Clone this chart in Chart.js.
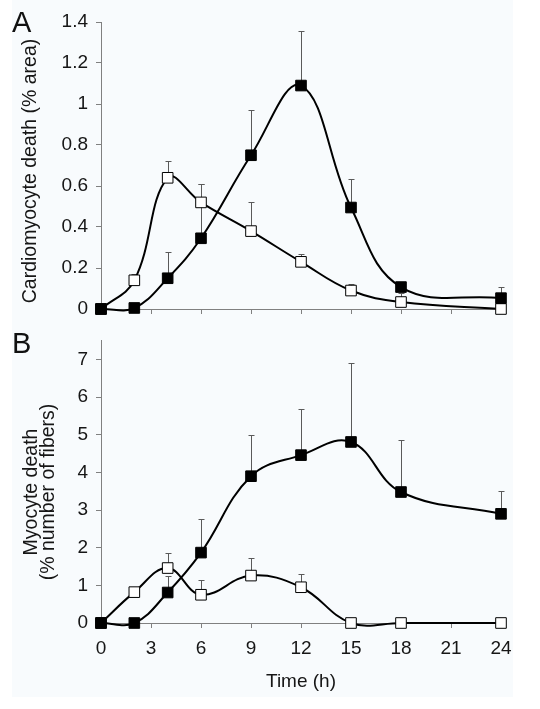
<!DOCTYPE html>
<html lang="en">
<head>
    <meta charset="UTF-8">
    <title>Cardiomyocyte and myocyte death over time</title>
    <script src="https://cdn.jsdelivr.net/npm/chart.js"></script>
    <style>
        body { margin: 0; background: #ffffff; font-family: "Liberation Sans", Arial, sans-serif; }
        #page { position: relative; width: 540px; height: 709px; overflow: hidden; }
        #panel { position: absolute; left: 12px; top: 0; width: 501px; height: 697px; background: #f8fbfd; }
        canvas { position: absolute; left: 0; }
        #chartA { top: 0; }
        #chartB { top: 315px; }
        .letter { position: absolute; left: 12px; font-size: 29px; line-height: 1; color: #111; }
        .ytitle {
            position: absolute; width: 300px;
            transform: translate(-50%, -50%) rotate(-90deg);
            font-size: 19.5px; line-height: 17px; text-align: center; color: #161616; white-space: nowrap;
        }
    </style>
</head>
<body>
<div id="page">
    <div id="panel"></div>
    <canvas id="chartA" width="540" height="330"></canvas>
    <canvas id="chartB" width="540" height="394"></canvas>
    <div class="letter" style="top: 8px;">A</div>
    <div class="letter" style="top: 329px;">B</div>
    <div class="ytitle" style="left: 29px; top: 171px;">Cardiomyocyte death (% area)</div>
    <div class="ytitle" style="left: 39px; top: 492px;">Myocyte death<br>(% number of fibers)</div>
</div>
<script>
    // sampling times (h)
    const times = [0, 2, 4, 6, 9, 12, 15, 18, 24];
    const timeTicks = [0, 3, 6, 9, 12, 15, 18, 21, 24];

    // panel A: cardiomyocyte death (% area)
    const areaTicks = [0, 0.2, 0.4, 0.6, 0.8, 1, 1.2, 1.4];
    const areaOpen = [0, 0.14, 0.64, 0.52, 0.38, 0.23, 0.09, 0.034, 0];
    const areaOpenErr = [0, 0.03, 0.08, 0.09, 0.14, 0.04, 0.03, 0.045, 0];
    const areaFilled = [0, 0.005, 0.15, 0.345, 0.75, 1.09, 0.495, 0.107, 0.053];
    const areaFilledErr = [0, 0, 0.13, 0.265, 0.22, 0.265, 0.14, 0, 0.053];

    // panel B: myocyte death (% number of fibers)
    const fiberTicks = [0, 1, 2, 3, 4, 5, 6, 7];
    const fiberOpen = [0, 0.82, 1.46, 0.75, 1.26, 0.95, 0, 0, 0];
    const fiberOpenErr = [0, 0, 0.40, 0.38, 0.47, 0.34, 0, 0, 0];
    const fiberFilled = [0, 0, 0.81, 1.87, 3.90, 4.46, 4.81, 3.48, 2.90];
    const fiberFilledErr = [0, 0, 0.44, 0.89, 1.10, 1.23, 2.10, 1.37, 0.60];

    const axisColor = '#808080';
    const textColor = '#161616';
    const tickFont = { family: 'Liberation Sans', size: 19 };

    function points(values) {
        return values.map((v, i) => ({ x: times[i], y: v }));
    }

    function series(values, errors, filled) {
        return {
            data: points(values),
            errors: errors,
            borderColor: '#000000',
            borderWidth: 2,
            tension: 0.4,
            clip: false,
            pointStyle: 'rect',
            pointRadius: 7.5,
            pointHoverRadius: 7.5,
            pointBorderWidth: 1,
            pointBorderColor: '#000000',
            pointBackgroundColor: filled ? '#000000' : '#ffffff'
        };
    }

    // upward error bars drawn under the lines and markers
    const errorBars = {
        id: 'errorBars',
        beforeDatasetsDraw(chart) {
            const ctx = chart.ctx;
            const xs = chart.scales.x;
            const ys = chart.scales.y;
            ctx.save();
            ctx.strokeStyle = '#5a5a5a';
            ctx.lineWidth = 1;
            chart.data.datasets.forEach(ds => {
                ds.data.forEach((p, i) => {
                    const err = ds.errors[i];
                    if (!err) return;
                    const x = Math.round(xs.getPixelForValue(p.x)) + 0.5;
                    const y0 = ys.getPixelForValue(p.y);
                    const y1 = Math.round(ys.getPixelForValue(p.y + err)) + 0.5;
                    ctx.beginPath();
                    ctx.moveTo(x, y0);
                    ctx.lineTo(x, y1);
                    ctx.moveTo(x - 3, y1);
                    ctx.lineTo(x + 3, y1);
                    ctx.stroke();
                });
            });
            ctx.restore();
        }
    };

    function xAxis(showLabels, height) {
        return {
            type: 'linear',
            min: 0,
            max: 24,
            afterFit: s => { s.height = height; },
            afterBuildTicks: s => { s.ticks = timeTicks.map(v => ({ value: v })); },
            border: { color: axisColor, width: 1 },
            grid: { drawOnChartArea: false, color: axisColor, tickLength: 5 },
            ticks: { display: showLabels, color: textColor, font: tickFont, padding: 9, maxRotation: 0 },
            title: {
                display: showLabels,
                text: 'Time (h)',
                color: textColor,
                font: { family: 'Liberation Sans', size: 19 },
                padding: { top: 4, bottom: 4 }
            }
        };
    }

    function yAxis(max, tickValues) {
        return {
            min: 0,
            max: max,
            afterFit: s => { s.width = 101; },
            afterBuildTicks: s => { s.ticks = tickValues.map(v => ({ value: v })); },
            border: { color: axisColor, width: 1 },
            grid: { drawOnChartArea: false, color: axisColor, tickLength: 5 },
            ticks: { color: textColor, font: tickFont, padding: 8, callback: v => String(v) }
        };
    }

    function baseOptions(padding, x, y) {
        return {
            responsive: false,
            animation: false,
            layout: { padding: padding },
            elements: { line: { capBezierPoints: false } },
            plugins: { legend: { display: false }, tooltip: { enabled: false } },
            scales: { x: x, y: y }
        };
    }

    new Chart(document.getElementById('chartA'), {
        type: 'line',
        data: {
            datasets: [
                series(areaFilled, areaFilledErr, true),
                series(areaOpen, areaOpenErr, false)
            ]
        },
        options: baseOptions({ top: 22, right: 39, left: 0, bottom: 0 },
            xAxis(false, 21),
            yAxis(1.4, areaTicks)),
        plugins: [errorBars]
    });

    new Chart(document.getElementById('chartB'), {
        type: 'line',
        data: {
            datasets: [
                series(fiberFilled, fiberFilledErr, true),
                series(fiberOpen, fiberOpenErr, false)
            ]
        },
        options: baseOptions({ top: 25.7, right: 39, left: 0, bottom: 12 },
            xAxis(true, 74),
            yAxis(7.5, fiberTicks)),
        plugins: [errorBars]
    });
</script>
</body>
</html>
